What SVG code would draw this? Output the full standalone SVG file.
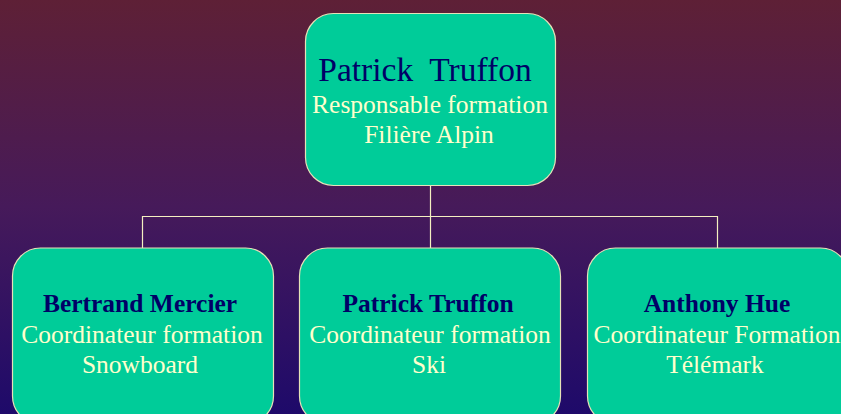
<svg xmlns="http://www.w3.org/2000/svg" width="841" height="414" viewBox="0 0 841 414">
<defs>
<linearGradient id="bg" x1="0" y1="0" x2="0" y2="1">
<stop offset="0" stop-color="#5e2036"/>
<stop offset="0.5" stop-color="#461a5a"/>
<stop offset="1" stop-color="#1e0a6a"/>
</linearGradient>
</defs>
<style>
.box{fill:#00cc99;stroke:#e6e2b8;stroke-width:1.2}
.ln{stroke:#f4f0c0;stroke-width:1.2;fill:none}
text{font-family:"Liberation Serif","Times New Roman",serif;text-anchor:middle;white-space:pre}
.nm{fill:#000066}
.bnm{fill:#000066;font-weight:bold;font-size:25.5px}
.sub{fill:#ffffcc;font-size:25.5px}
</style>
<rect width="841" height="414" fill="url(#bg)"/>
<g id="connectors">
<path class="ln" d="M430.5 186V216.5M142.5 248V216.5H717.5V248M430.5 216.5V248"/>
</g>
<g id="n0">
<rect class="box" x="305.5" y="13.5" width="250" height="172" rx="28"/>
<text class="nm" x="425" y="81" font-size="33.5" xml:space="preserve">Patrick  Truffon</text>
<text class="sub" x="430" y="113">Responsable formation</text>
<text class="sub" x="429" y="143">Filière Alpin</text>
</g>
<g id="n1">
<rect class="box" x="12.5" y="248" width="261" height="176" rx="28"/>
<text class="bnm" x="140" y="312">Bertrand Mercier</text>
<text class="sub" x="142" y="343">Coordinateur formation</text>
<text class="sub" x="140" y="373">Snowboard</text>
</g>
<g id="n2">
<rect class="box" x="299.5" y="248" width="261" height="176" rx="28"/>
<text class="bnm" x="428" y="312">Patrick Truffon</text>
<text class="sub" x="430" y="343">Coordinateur formation</text>
<text class="sub" x="429" y="373">Ski</text>
</g>
<g id="n3">
<rect class="box" x="587.5" y="248" width="261" height="176" rx="28"/>
<text class="bnm" x="717" y="312">Anthony Hue</text>
<text class="sub" x="717" y="343">Coordinateur Formation</text>
<text class="sub" x="715" y="373">Télémark</text>
</g>
</svg>
